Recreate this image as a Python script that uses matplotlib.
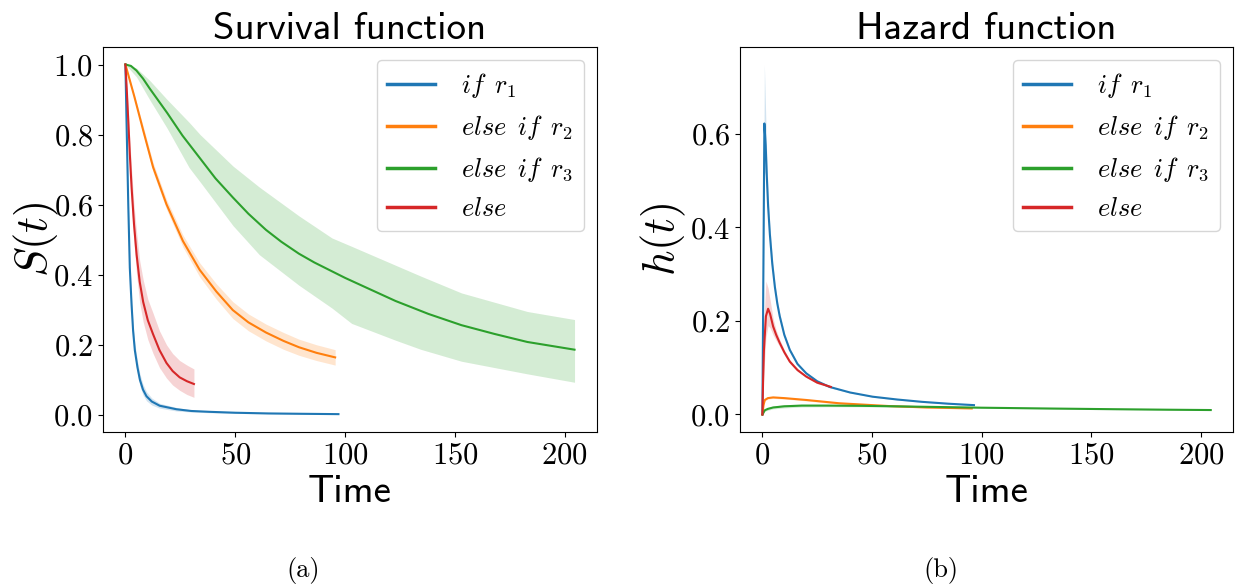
import matplotlib
matplotlib.use('Agg')
import matplotlib.pyplot as plt

plt.rcParams['mathtext.fontset'] = 'cm'
plt.rcParams['font.family'] = 'serif'
plt.rcParams['font.serif'] = ['cmr10']
plt.rcParams['axes.formatter.use_mathtext'] = True

labels = [r'$if\enspace r_1$', r'$else\enspace if\enspace r_2$',
          r'$else\enspace if\enspace r_3$', r'$else$']
colors = ['C0', 'C1', 'C2', 'C3']

# ---- survival function S(t) ----
surv_t_r1 = [0, 0.5, 1.3, 2.0, 2.8, 3.5, 4.3, 5.5, 6.6, 8, 9.6, 12, 15.6, 23.2, 30, 38.3, 50, 65, 80, 97]
surv_r1 = [1.0, 0.84, 0.60, 0.42, 0.315, 0.24, 0.184, 0.135, 0.10, 0.072, 0.053, 0.038, 0.026, 0.016, 0.011, 0.0086, 0.006, 0.004, 0.003, 0.002]
surv_r1_lo = [1.0, 0.83, 0.585, 0.40, 0.295, 0.22, 0.165, 0.117, 0.083, 0.057, 0.04, 0.028, 0.019, 0.011, 0.008, 0.006, 0.004, 0.003, 0.002, 0.001]
surv_r1_hi = [1.0, 0.85, 0.615, 0.44, 0.335, 0.26, 0.203, 0.153, 0.117, 0.087, 0.066, 0.048, 0.033, 0.021, 0.014, 0.011, 0.008, 0.005, 0.004, 0.003]

surv_t_r2 = [0, 2, 4, 8.1, 12.6, 18.7, 26.2, 33.8, 41.4, 48.9, 56, 64, 72, 79, 87, 95.5]
surv_r2 = [1.0, 0.955, 0.91, 0.812, 0.707, 0.601, 0.496, 0.414, 0.352, 0.299, 0.264, 0.235, 0.211, 0.193, 0.177, 0.164]
surv_r2_lo = [1.0, 0.952, 0.905, 0.80, 0.693, 0.587, 0.479, 0.394, 0.330, 0.275, 0.24, 0.211, 0.187, 0.17, 0.155, 0.142]
surv_r2_hi = [1.0, 0.958, 0.915, 0.824, 0.72, 0.615, 0.513, 0.434, 0.374, 0.323, 0.288, 0.259, 0.235, 0.216, 0.2, 0.186]

surv_t_r3 = [0, 2.5, 5, 8, 11, 15, 19, 26, 34, 41, 49, 56, 64, 71, 79, 86, 93, 100, 108, 123, 138, 153, 168, 183, 204.5]
surv_r3 = [1.0, 0.996, 0.983, 0.96, 0.932, 0.897, 0.862, 0.797, 0.732, 0.675, 0.620, 0.574, 0.528, 0.494, 0.460, 0.435, 0.413, 0.391, 0.368, 0.325, 0.288, 0.256, 0.231, 0.208, 0.186]
band_t_r3 = [0, 5, 11, 19, 29, 34, 49, 61, 79, 94, 103, 123, 134.5, 153, 183, 204.5]
surv_r3_hi = [1.0, 0.99, 0.955, 0.90, 0.835, 0.80, 0.71, 0.65, 0.568, 0.505, 0.481, 0.427, 0.396, 0.348, 0.295, 0.272]
surv_r3_lo = [1.0, 0.965, 0.90, 0.818, 0.706, 0.665, 0.54, 0.457, 0.37, 0.305, 0.261, 0.213, 0.187, 0.153, 0.117, 0.093]

surv_t_else = [0, 0.6, 1.3, 2.0, 2.8, 3.9, 5.1, 6.5, 8.1, 10.2, 12.6, 15.5, 18.7, 21.5, 24.7, 28, 31.2]
surv_else = [1.0, 0.93, 0.84, 0.745, 0.65, 0.545, 0.457, 0.38, 0.322, 0.27, 0.23, 0.185, 0.148, 0.125, 0.107, 0.096, 0.088]
surv_else_hi = [1.0, 0.945, 0.87, 0.785, 0.70, 0.60, 0.52, 0.44, 0.385, 0.33, 0.29, 0.24, 0.20, 0.175, 0.155, 0.142, 0.131]
surv_else_lo = [1.0, 0.915, 0.81, 0.705, 0.60, 0.49, 0.40, 0.32, 0.265, 0.215, 0.175, 0.135, 0.105, 0.085, 0.07, 0.058, 0.05]

# ---- hazard function h(t) ----
haz_t_r1 = [0, 0.9, 1.5, 2.0, 2.6, 3.4, 4.5, 5.7, 6.8, 7.9, 10, 12.5, 16, 20, 25, 30.6, 40, 50.3, 61.5, 72.9, 85, 96.5]
haz_r1 = [0, 0.622, 0.575, 0.51, 0.445, 0.385, 0.322, 0.272, 0.237, 0.21, 0.17, 0.138, 0.108, 0.088, 0.071, 0.059, 0.047, 0.038, 0.032, 0.027, 0.023, 0.020]
haz_r1_hi = [0, 0.748, 0.64, 0.55, 0.475, 0.405, 0.337, 0.282, 0.245, 0.217, 0.175, 0.142, 0.111, 0.09, 0.073, 0.061, 0.048, 0.039, 0.033, 0.028, 0.024, 0.021]
haz_r1_lo = [0, 0.52, 0.51, 0.47, 0.415, 0.365, 0.307, 0.262, 0.229, 0.203, 0.165, 0.134, 0.105, 0.086, 0.069, 0.057, 0.046, 0.037, 0.031, 0.026, 0.022, 0.019]

haz_t_r2 = [0, 0.5, 1.1, 2.5, 4.9, 10, 20, 35, 57.8, 75, 95.5]
haz_r2 = [0, 0.02, 0.031, 0.035, 0.0365, 0.035, 0.031, 0.024, 0.018, 0.015, 0.013]
haz_r2_hi = [0, 0.022, 0.033, 0.037, 0.0385, 0.037, 0.033, 0.026, 0.0195, 0.0165, 0.0145]
haz_r2_lo = [0, 0.018, 0.029, 0.033, 0.0345, 0.033, 0.029, 0.022, 0.0165, 0.0135, 0.0115]

haz_t_r3 = [0, 0.5, 1.1, 2.5, 4.9, 10, 18, 30, 45, 60, 80, 100, 130, 160, 185, 204.5]
haz_r3 = [0, 0.004, 0.009, 0.012, 0.015, 0.0175, 0.019, 0.019, 0.0185, 0.0175, 0.016, 0.0145, 0.0128, 0.0113, 0.0102, 0.0095]
haz_r3_hi = [0, 0.005, 0.011, 0.015, 0.018, 0.021, 0.022, 0.0215, 0.0205, 0.019, 0.0172, 0.0155, 0.0136, 0.012, 0.0108, 0.0101]
haz_r3_lo = [0, 0.003, 0.007, 0.009, 0.012, 0.014, 0.016, 0.0165, 0.0165, 0.016, 0.0148, 0.0135, 0.012, 0.0106, 0.0096, 0.0089]

haz_t_else = [0, 0.3, 0.7, 1.6, 2.6, 3.5, 4.9, 6.3, 7.9, 10, 12.5, 16, 20, 25, 31.2]
haz_else = [0, 0.07, 0.138, 0.21, 0.226, 0.215, 0.188, 0.17, 0.153, 0.133, 0.113, 0.095, 0.081, 0.068, 0.059]
haz_else_hi = [0, 0.09, 0.2, 0.285, 0.27, 0.245, 0.205, 0.18, 0.16, 0.138, 0.117, 0.098, 0.083, 0.07, 0.061]
haz_else_lo = [0, 0.05, 0.09, 0.165, 0.19, 0.185, 0.17, 0.158, 0.145, 0.127, 0.109, 0.092, 0.079, 0.066, 0.057]

surv_series = [
    (surv_t_r1, surv_r1, surv_t_r1, surv_r1_lo, surv_r1_hi),
    (surv_t_r2, surv_r2, surv_t_r2, surv_r2_lo, surv_r2_hi),
    (surv_t_r3, surv_r3, band_t_r3, surv_r3_lo, surv_r3_hi),
    (surv_t_else, surv_else, surv_t_else, surv_else_lo, surv_else_hi),
]
haz_series = [
    (haz_t_r1, haz_r1, haz_t_r1, haz_r1_lo, haz_r1_hi),
    (haz_t_r2, haz_r2, haz_t_r2, haz_r2_lo, haz_r2_hi),
    (haz_t_r3, haz_r3, haz_t_r3, haz_r3_lo, haz_r3_hi),
    (haz_t_else, haz_else, haz_t_else, haz_else_lo, haz_else_hi),
]

fig = plt.figure(figsize=(12.36, 5.84), dpi=100)
ax1 = fig.add_axes([0.0833, 0.2603, 0.3997, 0.6592])
ax2 = fig.add_axes([0.5987, 0.2603, 0.3990, 0.6592])

panels = [
    (ax1, surv_series, 'Survival function', r'$S(t)$', -0.085),
    (ax2, haz_series, 'Hazard function', r'$h(t)$', -0.105),
]

for ax, series, title, ylab, ylab_x in panels:
    for (t, y, bt, lo, hi), lab, c in zip(series, labels, colors):
        ax.fill_between(bt, lo, hi, color=c, alpha=0.2, linewidth=0)
        ax.plot(t, y, color=c, lw=1.5, label=lab)
    ax.set_title(title, fontsize=28, fontfamily='cmss10')
    ax.set_xlabel('Time', fontsize=28, fontfamily='cmss10')
    ax.set_ylabel(ylab, fontsize=32)
    ax.yaxis.set_label_coords(ylab_x, 0.5)
    ax.tick_params(labelsize=22)
    ax.set_xticks([0, 50, 100, 150, 200])
    leg = ax.legend(loc='upper right', fontsize=19, handlelength=1.8, handletextpad=1.0)
    for h in leg.legend_handles:
        h.set_linewidth(2.5)

fig.text(303 / 1236, 1 - 570 / 584, '(a)', fontsize=19, ha='center', va='center')
fig.text(941 / 1236, 1 - 570 / 584, '(b)', fontsize=19, ha='center', va='center')

fig.savefig('out.png', dpi=100)
